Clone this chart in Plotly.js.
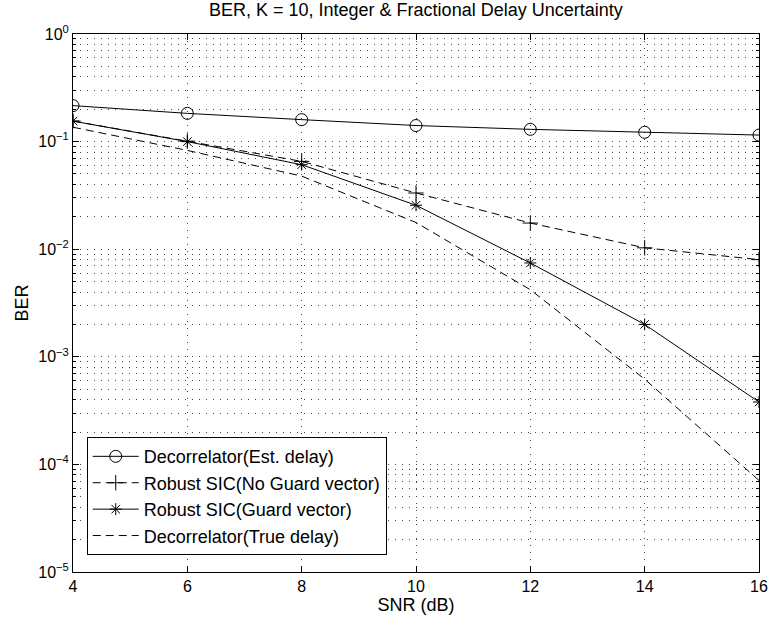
<!DOCTYPE html>
<html><head><meta charset="utf-8">
<script src="https://cdn.plot.ly/plotly-3.0.1.min.js"></script>
<style>body{margin:0;background:#fff}#chart{width:773px;height:620px}</style>
</head><body><div id="chart"></div>
<script>
const snr = [4, 6, 8, 10, 12, 14, 16];
const berEstDelay = [0.216, 0.183, 0.160, 0.141, 0.130, 0.122, 0.115];
const berNoGuard = [0.155, 0.101, 0.0655, 0.0333, 0.0175, 0.0103, 0.0080];
const berGuard = [0.155, 0.100, 0.061, 0.0256, 0.00745, 0.0020, 0.00038];
const berTrueDelay = [0.136, 0.0828, 0.0478, 0.0177, 0.0042, 0.00062, 0.000071];
const names = ['Decorrelator(Est. delay)', 'Robust SIC(No Guard vector)', 'Robust SIC(Guard vector)', 'Decorrelator(True delay)'];
const yTickVals = [1, 0.1, 0.01, 0.001, 0.0001, 0.00001];
const yTickText = ['10<sup>0</sup>', '10<sup>−1</sup>', '10<sup>−2</sup>', '10<sup>−3</sup>', '10<sup>−4</sup>', '10<sup>−5</sup>'];
const xTickVals = [4, 6, 8, 10, 12, 14, 16];

const blk = '#000';
const dashPat = '8px,5px';
const gridDash = '1px,6px';
const gridCol = '#444';
const traces = [
  {x: snr, y: berEstDelay, name: names[0], mode: 'lines+markers',
   line: {color: blk, width: 1}, marker: {symbol: 'circle-open', size: 12, color: blk, line: {width: 1}}},
  {x: snr, y: berNoGuard, name: names[1], mode: 'lines+markers',
   line: {color: blk, width: 1, dash: dashPat}, marker: {symbol: 'cross-thin-open', size: 11, color: blk, line: {width: 1}}},
  {x: snr, y: berGuard, name: names[2], mode: 'lines+markers',
   line: {color: blk, width: 1}, marker: {symbol: 'asterisk-open', size: 10, color: blk, line: {width: 1}}},
  {x: snr, y: berTrueDelay, name: names[3], mode: 'lines',
   line: {color: blk, width: 1, dash: dashPat}}
];

const fam = 'Liberation Sans, Arial, sans-serif';
const layout = {
  width: 773, height: 620,
  margin: {l: 72.5, r: 13.5, t: 33.5, b: 48},
  paper_bgcolor: '#fff', plot_bgcolor: '#fff',
  font: {family: fam, color: blk},
  showlegend: true,
  title: {text: 'BER, K = 10, Integer &amp; Fractional Delay Uncertainty', font: {size: 18, family: fam, color: blk}, x: 0.538, xanchor: 'center', y: 0.995, yanchor: 'top'},
  xaxis: {
    range: [4, 16], tickvals: xTickVals, ticks: 'inside', ticklen: 6, tickcolor: blk,
    showline: true, linecolor: blk, linewidth: 1, mirror: 'allticks',
    showgrid: true, gridcolor: gridCol, griddash: gridDash, gridwidth: 1, zeroline: false,
    tickfont: {size: 16, family: fam, color: blk},
    title: {text: 'SNR (dB)', font: {size: 18, family: fam, color: blk}, standoff: 0}
  },
  yaxis: {
    type: 'log', range: [-5, 0], tickvals: yTickVals, ticktext: yTickText,
    ticks: 'inside', ticklen: 6, tickcolor: blk,
    showline: true, linecolor: blk, linewidth: 1, mirror: 'allticks',
    showgrid: true, gridcolor: gridCol, griddash: gridDash, gridwidth: 1, zeroline: false,
    tickfont: {size: 16, family: fam, color: blk},
    minor: {dtick: 'D1', ticks: 'inside', ticklen: 3, tickcolor: blk, showgrid: true, gridcolor: gridCol, griddash: gridDash, gridwidth: 1},
    title: {text: 'BER', font: {size: 18, family: fam, color: blk}, standoff: 4}
  },
  legend: {
    x: 0.02, y: 0.141, xanchor: 'left', yanchor: 'middle',
    bgcolor: '#fff', bordercolor: blk, borderwidth: 1,
    font: {size: 18, family: fam, color: blk},
    itemwidth: 46, tracegroupgap: 0
  }
};
Plotly.newPlot('chart', traces, layout, {displayModeBar: false, staticPlot: true});
</script></body></html>
